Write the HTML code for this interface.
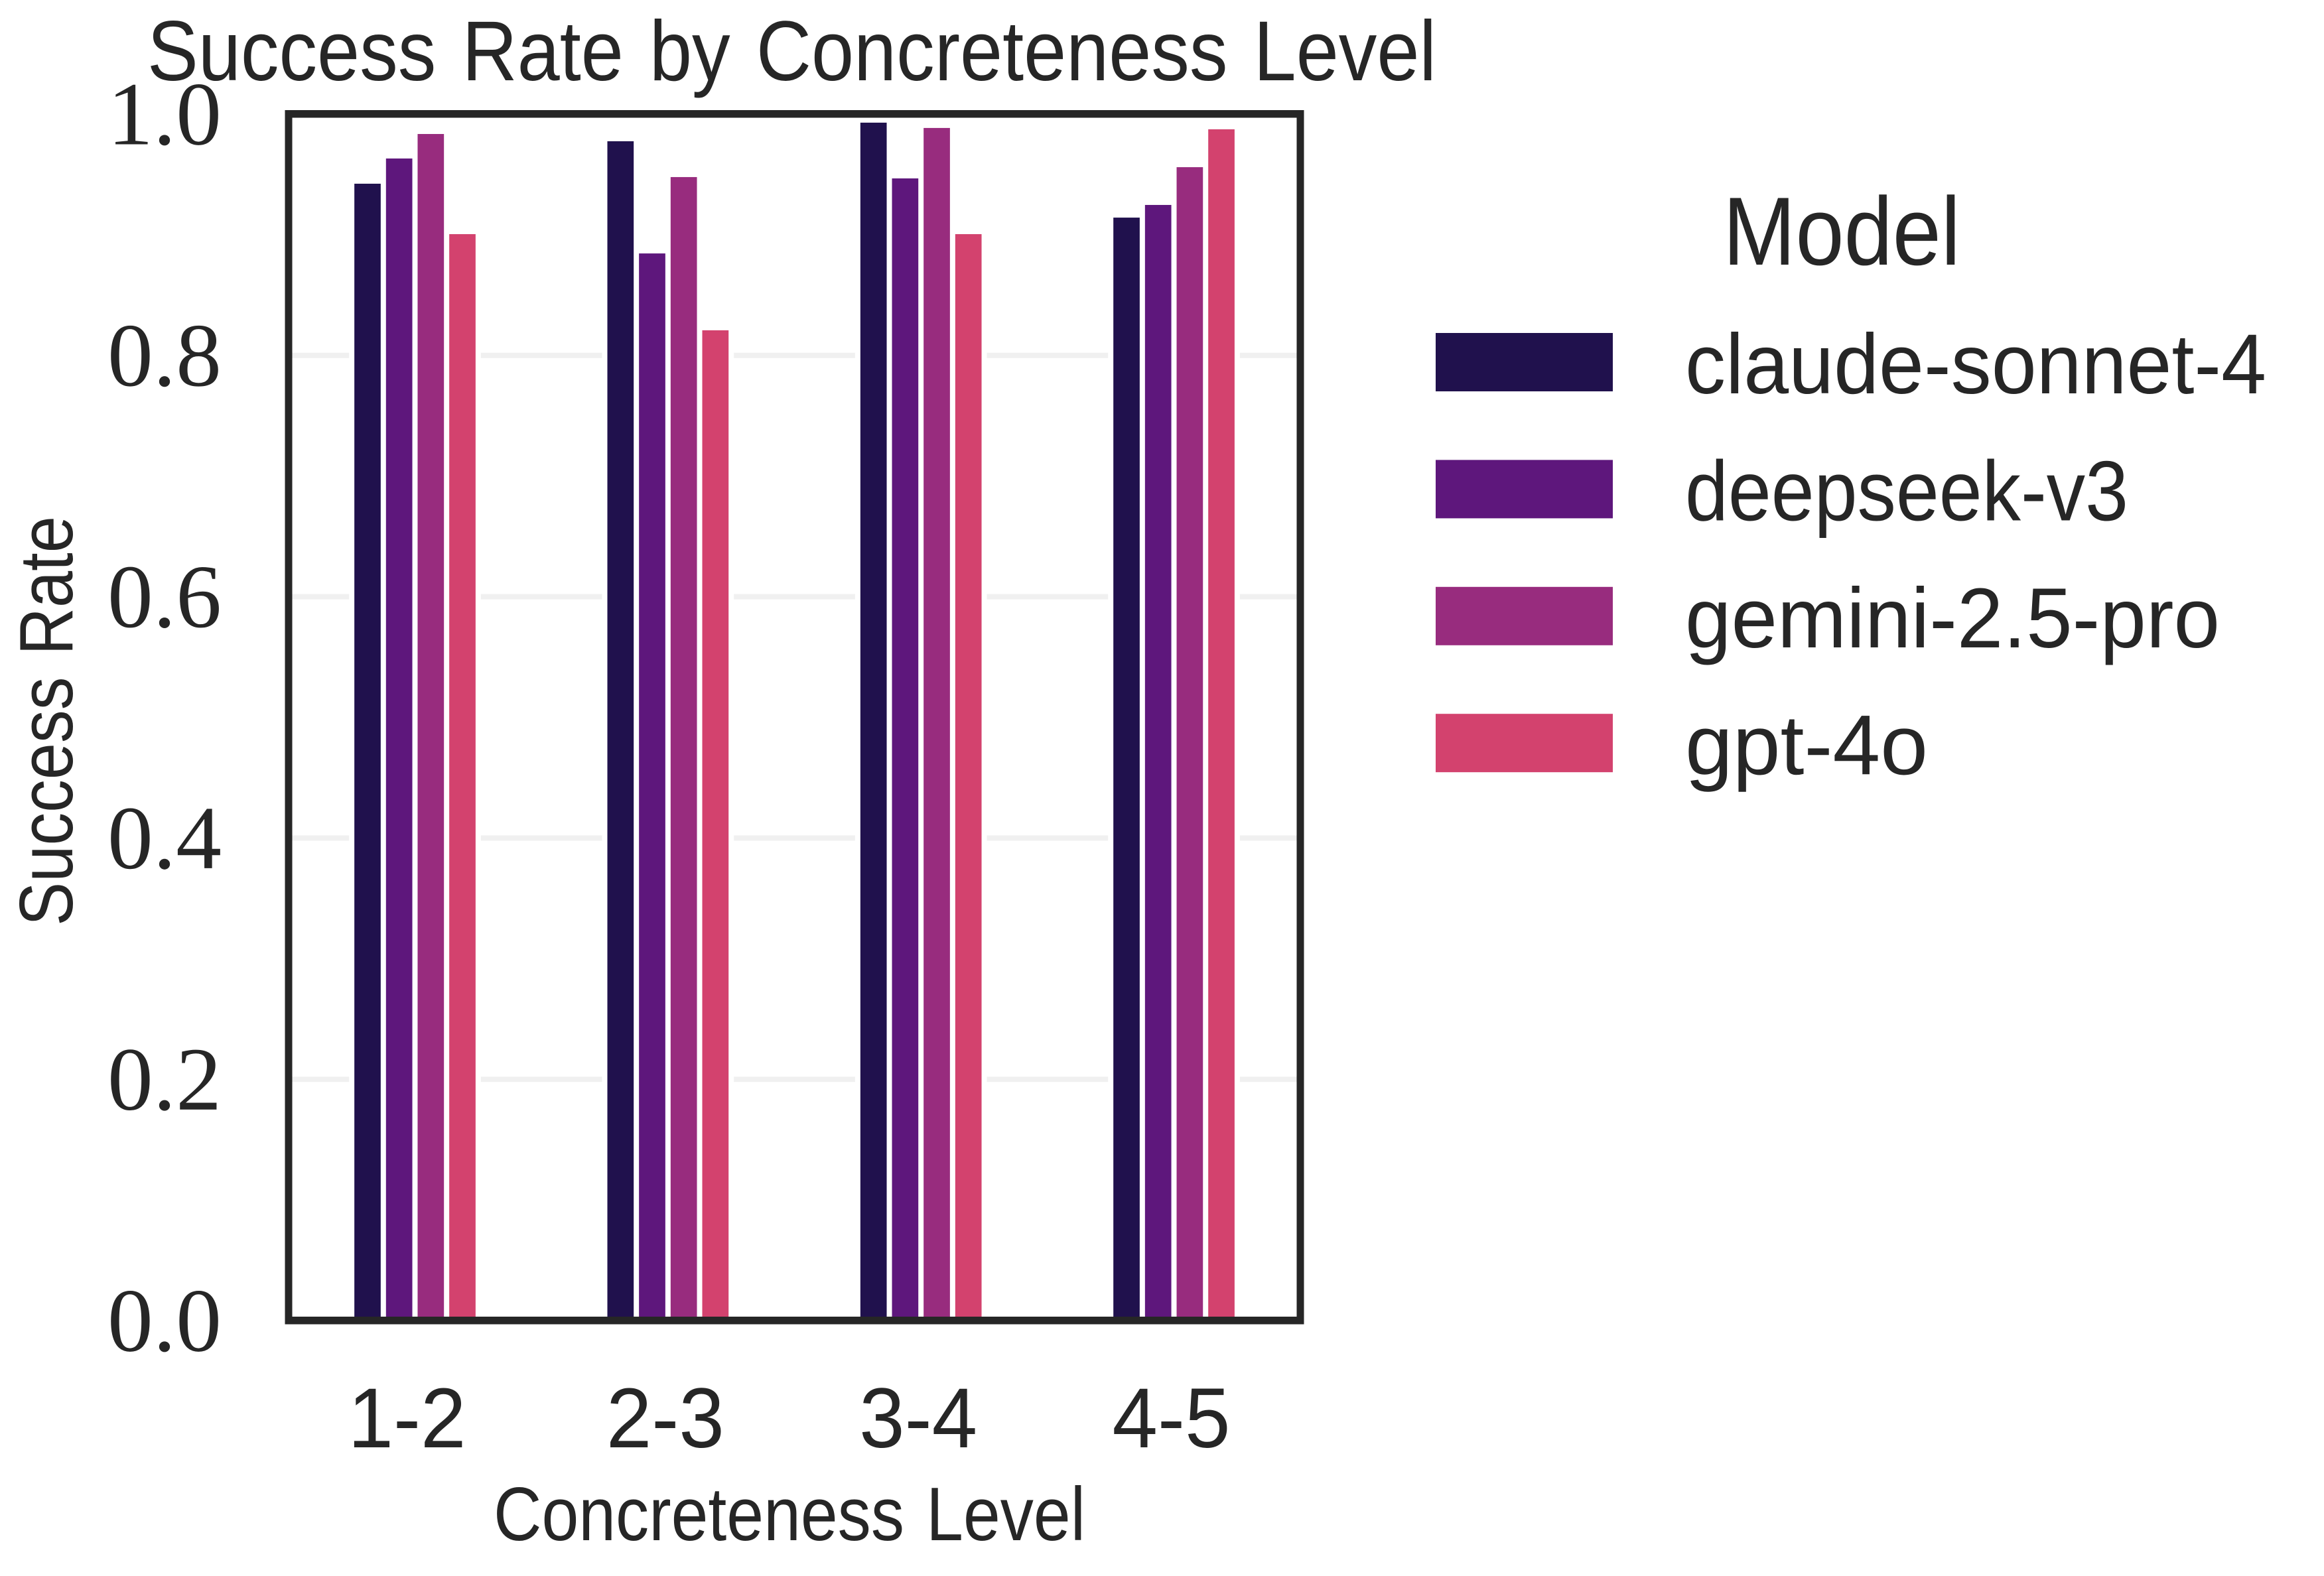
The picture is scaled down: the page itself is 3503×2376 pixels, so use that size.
<!DOCTYPE html>
<html lang="en">
<head>
<meta charset="utf-8">
<title>Success Rate by Concreteness Level</title>
<style>
html,body{margin:0;padding:0;background:#fff;}
svg{display:block;}
text{fill:#262626;font-family:"Liberation Sans",sans-serif;}
.num{font-family:"Liberation Serif",serif;}
</style>
</head>
<body>
<svg id="chart" xmlns="http://www.w3.org/2000/svg" width="3503" height="2376" viewBox="0 0 3503 2376">
  <rect x="0" y="0" width="3503" height="2376" fill="#ffffff"/>
  <g id="grid"></g>
  <g id="halos"></g>
  <g id="bars"></g>
  <g fill="#262626">
    <rect x="429.5" y="166" width="11" height="1830.5"/>
    <rect x="1954.5" y="166" width="11" height="1830.5"/>
    <rect x="429.5" y="166" width="1536" height="11.5"/>
    <rect x="429.5" y="1985" width="1536" height="11.5"/>
  </g>
  <g id="yticks"></g>
  <g id="xticks"></g>
  <text x="222" y="121" font-size="128" style="word-spacing:8px" textLength="1943" lengthAdjust="spacingAndGlyphs">Success Rate by Concreteness Level</text>
  <text x="744" y="2322" font-size="114" style="word-spacing:6px" textLength="892" lengthAdjust="spacingAndGlyphs">Concreteness Level</text>
  <text transform="translate(109,1396) rotate(-90)" x="0" y="0" font-size="114" style="word-spacing:6px" textLength="618" lengthAdjust="spacingAndGlyphs">Success Rate</text>
  <text x="2597" y="399" font-size="146" textLength="358" lengthAdjust="spacingAndGlyphs">Model</text>
  <g id="legend"></g>
</svg>
<script>
const categories = ["1-2", "2-3", "3-4", "4-5"];
const seriesNames = ["claude-sonnet-4", "deepseek-v3", "gemini-2.5-pro", "gpt-4o"];
const claudeValues = [0.9423, 0.9775, 0.9929, 0.9142];
const deepseekValues = [0.9632, 0.8845, 0.9467, 0.9247];
const geminiValues = [0.9835, 0.9478, 0.9885, 0.9560];
const gptValues = [0.9005, 0.8208, 0.9005, 0.9874];
const seriesColors = ["#20114d", "#5e177c", "#982c7e", "#d3426e"];
const yTickValues = [0, 0.2, 0.4, 0.6, 0.8, 1];
const yTickLabels = ["0.0", "0.2", "0.4", "0.6", "0.8", "1.0"];
const gridValues = [0.2, 0.4, 0.6, 0.8];

const allSeries = [claudeValues, deepseekValues, geminiValues, gptValues];
const NS = "http://www.w3.org/2000/svg";
const plotLeft = 434.8, plotRight = 1960.2, plotTop = 172, plotBottom = 1991;

function yScale(v) {
  return plotBottom - v * (plotBottom - plotTop);
}
function xBand(i) {
  return plotLeft + (i + 0.5) * (plotRight - plotLeft) / categories.length;
}
function barStep() {
  return (plotRight - plotLeft) / categories.length / 8;
}
function barLeft(i, s) {
  return xBand(i) + (s - seriesNames.length / 2) * barStep() + 4;
}
function make(tag, attrs, parent) {
  const el = document.createElementNS(NS, tag);
  for (const k in attrs) el.setAttribute(k, attrs[k]);
  parent.appendChild(el);
  return el;
}

const gridG = document.getElementById("grid");
gridValues.forEach(function (v) {
  const line = make("rect", { x: plotLeft, y: yScale(v) - 4, width: plotRight - plotLeft, height: 8, fill: "#f0f0f0" }, gridG);
  
  
});

const haloG = document.getElementById("halos");
const barsG = document.getElementById("bars");
const visibleWidth = 39.7;
allSeries.forEach(function (values, s) {
  values.forEach(function (v, i) {
    const x = barLeft(i, s);
    const top = yScale(v);
    const halo = make("rect", { x: x - 8, y: top - 8, width: visibleWidth + 16, height: plotBottom - top + 8, fill: "#ffffff" }, haloG);
    
    
    const bar = make("rect", { x: x, y: top, width: visibleWidth, height: plotBottom - top, fill: seriesColors[s] }, barsG);
    
    
  });
});

const yG = document.getElementById("yticks");
yTickValues.forEach(function (v, i) {
  const t = make("text", { class: "num", x: 162, y: yScale(v) + 45.5, "font-size": 136, textLength: 172, lengthAdjust: "spacingAndGlyphs" }, yG);
  t.textContent = yTickLabels[i];
  
  
});

const xG = document.getElementById("xticks");
categories.forEach(function (c, i) {
  const shift = i === 0 ? -12 : -4;
  const t = make("text", { x: xBand(i) + shift, y: 2182, "font-size": 128, "text-anchor": "middle", textLength: 178, lengthAdjust: "spacingAndGlyphs" }, xG);
  t.textContent = c;
  
  
});

const legendG = document.getElementById("legend");
const legendLengths = [876, 668, 806, 366];
seriesNames.forEach(function (name, s) {
  const rowTop = 502 + s * 191.4;
  const patch = make("rect", { x: 2164, y: rowTop, width: 267, height: 88, fill: seriesColors[s] }, legendG);
  
  
  const label = make("text", { x: 2540, y: rowTop + 91, "font-size": 128, textLength: legendLengths[s], lengthAdjust: "spacingAndGlyphs" }, legendG);
  label.textContent = name;
  
  
});
</script>
</body>
</html>
